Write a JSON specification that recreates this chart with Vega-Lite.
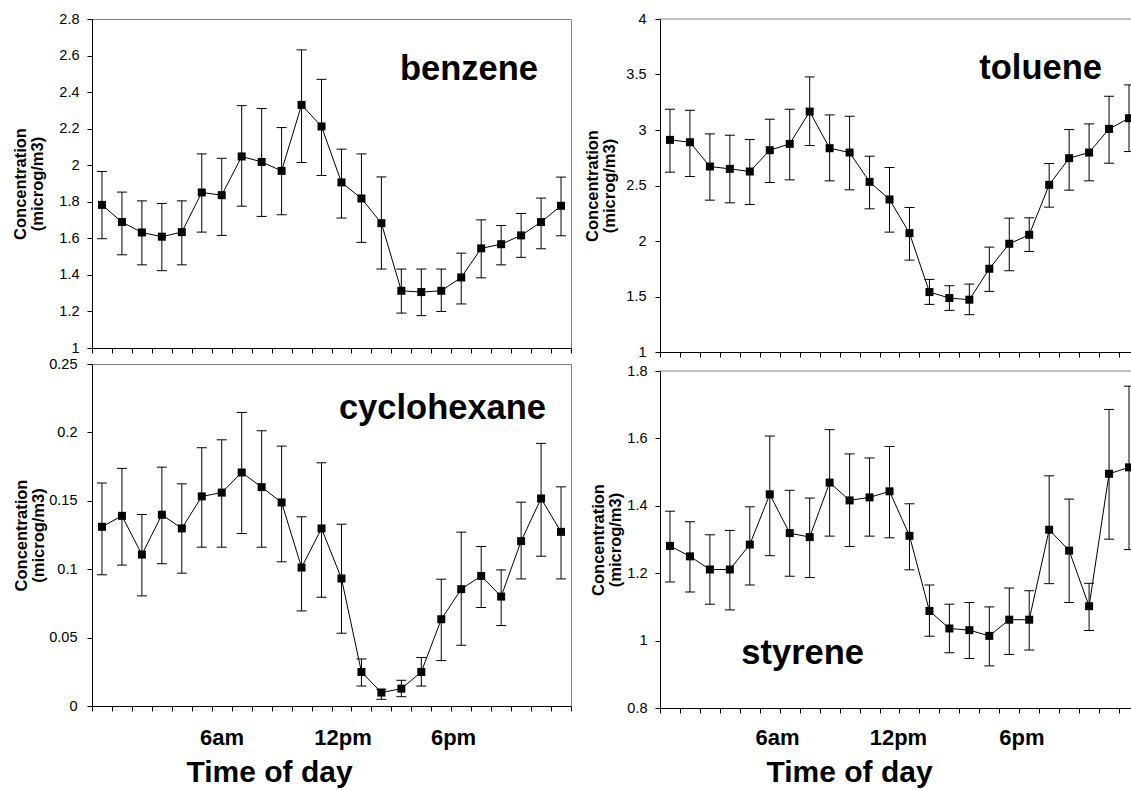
{
  "$schema": "https://vega.github.io/schema/vega-lite/v6.json",
  "background": "white",
  "padding": {"left": 12, "top": 10, "right": 0, "bottom": 0},
  "config": {
    "font": "Liberation Sans",
    "view": {"stroke": "#808080", "strokeWidth": 1},
    "axis": {"grid": false, "domainColor": "black", "domainWidth": 1, "tickColor": "black", "tickWidth": 1, "tickSize": 5, "labelColor": "black", "titleColor": "black", "labelFont": "Liberation Sans", "titleFont": "Liberation Sans"}
  },
  "datasets": {
    "benzene": [
      {"h": 0, "m": 1.783, "lo": 1.598, "hi": 1.966},
      {"h": 1, "m": 1.689, "lo": 1.510, "hi": 1.853},
      {"h": 2, "m": 1.632, "lo": 1.455, "hi": 1.805},
      {"h": 3, "m": 1.609, "lo": 1.423, "hi": 1.791},
      {"h": 4, "m": 1.634, "lo": 1.455, "hi": 1.805},
      {"h": 5, "m": 1.851, "lo": 1.634, "hi": 2.062},
      {"h": 6, "m": 1.836, "lo": 1.616, "hi": 2.038},
      {"h": 7, "m": 2.048, "lo": 1.776, "hi": 2.326},
      {"h": 8, "m": 2.018, "lo": 1.720, "hi": 2.310},
      {"h": 9, "m": 1.969, "lo": 1.729, "hi": 2.206},
      {"h": 10, "m": 2.330, "lo": 2.015, "hi": 2.631},
      {"h": 11, "m": 2.212, "lo": 1.944, "hi": 2.470},
      {"h": 12, "m": 1.906, "lo": 1.711, "hi": 2.088},
      {"h": 13, "m": 1.818, "lo": 1.578, "hi": 2.062},
      {"h": 14, "m": 1.683, "lo": 1.432, "hi": 1.936},
      {"h": 15, "m": 1.313, "lo": 1.191, "hi": 1.432},
      {"h": 16, "m": 1.306, "lo": 1.177, "hi": 1.432},
      {"h": 17, "m": 1.313, "lo": 1.200, "hi": 1.432},
      {"h": 18, "m": 1.386, "lo": 1.241, "hi": 1.519},
      {"h": 19, "m": 1.545, "lo": 1.384, "hi": 1.701},
      {"h": 20, "m": 1.568, "lo": 1.455, "hi": 1.670},
      {"h": 21, "m": 1.616, "lo": 1.496, "hi": 1.736},
      {"h": 22, "m": 1.689, "lo": 1.543, "hi": 1.820},
      {"h": 23, "m": 1.778, "lo": 1.614, "hi": 1.935}
    ],
    "toluene": [
      {"h": 0, "m": 2.911, "lo": 2.620, "hi": 3.187},
      {"h": 1, "m": 2.890, "lo": 2.581, "hi": 3.178},
      {"h": 2, "m": 2.671, "lo": 2.368, "hi": 2.965},
      {"h": 3, "m": 2.650, "lo": 2.344, "hi": 2.953},
      {"h": 4, "m": 2.626, "lo": 2.329, "hi": 2.914},
      {"h": 5, "m": 2.818, "lo": 2.527, "hi": 3.097},
      {"h": 6, "m": 2.875, "lo": 2.551, "hi": 3.187},
      {"h": 7, "m": 3.166, "lo": 2.860, "hi": 3.478},
      {"h": 8, "m": 2.836, "lo": 2.542, "hi": 3.136},
      {"h": 9, "m": 2.797, "lo": 2.461, "hi": 3.124},
      {"h": 10, "m": 2.533, "lo": 2.290, "hi": 2.764},
      {"h": 11, "m": 2.374, "lo": 2.080, "hi": 2.662},
      {"h": 12, "m": 2.071, "lo": 1.828, "hi": 2.302},
      {"h": 13, "m": 1.540, "lo": 1.429, "hi": 1.654},
      {"h": 14, "m": 1.486, "lo": 1.375, "hi": 1.597},
      {"h": 15, "m": 1.471, "lo": 1.336, "hi": 1.612},
      {"h": 16, "m": 1.750, "lo": 1.546, "hi": 1.945},
      {"h": 17, "m": 1.975, "lo": 1.732, "hi": 2.206},
      {"h": 18, "m": 2.056, "lo": 1.906, "hi": 2.209},
      {"h": 19, "m": 2.506, "lo": 2.305, "hi": 2.698},
      {"h": 20, "m": 2.746, "lo": 2.458, "hi": 3.004},
      {"h": 21, "m": 2.797, "lo": 2.542, "hi": 3.055},
      {"h": 22, "m": 3.010, "lo": 2.701, "hi": 3.304},
      {"h": 23, "m": 3.106, "lo": 2.806, "hi": 3.406}
    ],
    "cyclohexane": [
      {"h": 0, "m": 0.131, "lo": 0.0959, "hi": 0.163},
      {"h": 1, "m": 0.139, "lo": 0.103, "hi": 0.1737},
      {"h": 2, "m": 0.1107, "lo": 0.0805, "hi": 0.140},
      {"h": 3, "m": 0.1398, "lo": 0.104, "hi": 0.1746},
      {"h": 4, "m": 0.1298, "lo": 0.0971, "hi": 0.1624},
      {"h": 5, "m": 0.1532, "lo": 0.1161, "hi": 0.1888},
      {"h": 6, "m": 0.156, "lo": 0.1161, "hi": 0.1946},
      {"h": 7, "m": 0.1707, "lo": 0.1261, "hi": 0.2146},
      {"h": 8, "m": 0.160, "lo": 0.1161, "hi": 0.2012},
      {"h": 9, "m": 0.1488, "lo": 0.1054, "hi": 0.190},
      {"h": 10, "m": 0.1012, "lo": 0.0695, "hi": 0.1383},
      {"h": 11, "m": 0.1298, "lo": 0.0795, "hi": 0.1778},
      {"h": 12, "m": 0.0932, "lo": 0.0532, "hi": 0.1329},
      {"h": 13, "m": 0.0249, "lo": 0.0146, "hi": 0.0344},
      {"h": 14, "m": 0.0098, "lo": 0.0049, "hi": 0.0122},
      {"h": 15, "m": 0.0127, "lo": 0.0068, "hi": 0.0188},
      {"h": 16, "m": 0.0249, "lo": 0.0146, "hi": 0.0354},
      {"h": 17, "m": 0.0634, "lo": 0.0332, "hi": 0.0927},
      {"h": 18, "m": 0.0854, "lo": 0.0444, "hi": 0.1271},
      {"h": 19, "m": 0.0951, "lo": 0.072, "hi": 0.1166},
      {"h": 20, "m": 0.080, "lo": 0.0588, "hi": 0.0995},
      {"h": 21, "m": 0.1205, "lo": 0.0929, "hi": 0.149},
      {"h": 22, "m": 0.1517, "lo": 0.1095, "hi": 0.192},
      {"h": 23, "m": 0.1273, "lo": 0.0929, "hi": 0.1602}
    ],
    "styrene": [
      {"h": 0, "m": 1.281, "lo": 1.174, "hi": 1.384},
      {"h": 1, "m": 1.250, "lo": 1.144, "hi": 1.353},
      {"h": 2, "m": 1.211, "lo": 1.108, "hi": 1.314},
      {"h": 3, "m": 1.211, "lo": 1.091, "hi": 1.327},
      {"h": 4, "m": 1.285, "lo": 1.165, "hi": 1.397},
      {"h": 5, "m": 1.434, "lo": 1.252, "hi": 1.607},
      {"h": 6, "m": 1.319, "lo": 1.191, "hi": 1.446},
      {"h": 7, "m": 1.307, "lo": 1.187, "hi": 1.423},
      {"h": 8, "m": 1.469, "lo": 1.310, "hi": 1.626},
      {"h": 9, "m": 1.416, "lo": 1.279, "hi": 1.554},
      {"h": 10, "m": 1.425, "lo": 1.310, "hi": 1.542},
      {"h": 11, "m": 1.443, "lo": 1.305, "hi": 1.576},
      {"h": 12, "m": 1.311, "lo": 1.210, "hi": 1.406},
      {"h": 13, "m": 1.088, "lo": 1.013, "hi": 1.165},
      {"h": 14, "m": 1.036, "lo": 0.964, "hi": 1.108},
      {"h": 15, "m": 1.031, "lo": 0.947, "hi": 1.113},
      {"h": 16, "m": 1.014, "lo": 0.925, "hi": 1.100},
      {"h": 17, "m": 1.062, "lo": 0.959, "hi": 1.156},
      {"h": 18, "m": 1.062, "lo": 0.972, "hi": 1.148},
      {"h": 19, "m": 1.329, "lo": 1.169, "hi": 1.489},
      {"h": 20, "m": 1.267, "lo": 1.113, "hi": 1.420},
      {"h": 21, "m": 1.102, "lo": 1.030, "hi": 1.170},
      {"h": 22, "m": 1.495, "lo": 1.301, "hi": 1.686},
      {"h": 23, "m": 1.514, "lo": 1.270, "hi": 1.755}
    ]
  },
  "spacing": 12,
  "hconcat": [
    {
      "spacing": 0,
      "vconcat": [
        {
          "width": 479, "height": 329,
          "data": {"name": "benzene"},
          "encoding": {
            "x": {"field": "h", "type": "quantitative", "scale": {"domain": [-0.5, 23.5], "nice": false, "zero": false},
                  "axis": {"values": [-0.5,0.5,1.5,2.5,3.5,4.5,5.5,6.5,7.5,8.5,9.5,10.5,11.5,12.5,13.5,14.5,15.5,16.5,17.5,18.5,19.5,20.5,21.5,22.5,23.5], "labels": false, "title": null}},
            "y": {"field": "m", "type": "quantitative", "scale": {"domain": [1, 2.8], "nice": false, "zero": false},
                  "axis": {"values": [1,1.2,1.4,1.6,1.8,2,2.2,2.4,2.6,2.8], "format": "~g", "labelFontSize": 14.5, "labelPadding": 8,
                           "title": ["Concentration", "(microg/m3)"], "titleFontSize": 16.5, "titleFontWeight": "bold", "titleLineHeight": 17, "titlePadding": 13}}
          },
          "layer": [
            {"mark": {"type": "rule", "color": "black", "strokeWidth": 1}, "encoding": {"y": {"field": "lo", "type": "quantitative"}, "y2": {"field": "hi"}}},
            {"mark": {"type": "tick", "orient": "horizontal", "size": 10, "thickness": 1, "color": "black", "opacity": 1}, "encoding": {"y": {"field": "hi", "type": "quantitative"}}},
            {"mark": {"type": "tick", "orient": "horizontal", "size": 10, "thickness": 1, "color": "black", "opacity": 1}, "encoding": {"y": {"field": "lo", "type": "quantitative"}}},
            {"mark": {"type": "line", "color": "black", "strokeWidth": 1}},
            {"mark": {"type": "square", "size": 64, "color": "black", "filled": true, "opacity": 1}},
            {"transform": [{"filter": "datum.h == 0"}],
             "mark": {"type": "text", "text": "benzene", "font": "Liberation Sans", "fontSize": 34.5, "fontWeight": "bold", "align": "center", "baseline": "alphabetic", "color": "black"},
             "encoding": {"x": {"datum": 18.39, "type": "quantitative"}, "y": {"datum": 2.467, "type": "quantitative"}}}
          ]
        },
        {
          "width": 479, "height": 342,
          "data": {"name": "cyclohexane"},
          "encoding": {
            "x": {"field": "h", "type": "quantitative", "scale": {"domain": [-0.5, 23.5], "nice": false, "zero": false},
                  "axis": {"values": [-0.5,0.5,1.5,2.5,3.5,4.5,5.5,6.5,7.5,8.5,9.5,10.5,11.5,12.5,13.5,14.5,15.5,16.5,17.5,18.5,19.5,20.5,21.5,22.5,23.5,5.99,12.05,17.59],
                           "labelExpr": "abs(datum.value - floor(datum.value) - 0.5) > 0.01 ? (datum.value < 9 ? '6am' : (datum.value < 15 ? '12pm' : '6pm')) : ''",
                           "tickOpacity": {"condition": {"test": "abs(datum.value - floor(datum.value) - 0.5) > 0.01", "value": 0}, "value": 1},
                           "labelFontSize": 22, "labelFontWeight": "bold", "labelPadding": 16, "labelOverlap": false, "labelFlush": false, "labelBound": false,
                           "title": "Time of day", "titleFontSize": 30, "titleFontWeight": "bold", "titlePadding": 9, "titleAnchor": "middle", "titleX": 177}},
            "y": {"field": "m", "type": "quantitative", "scale": {"domain": [0, 0.25], "nice": false, "zero": false},
                  "axis": {"values": [0,0.05,0.1,0.15,0.2,0.25], "format": "~g", "labelFontSize": 14.5, "labelPadding": 10,
                           "title": ["Concentration", "(microg/m3)"], "titleFontSize": 16.5, "titleFontWeight": "bold", "titleLineHeight": 17, "titlePadding": 2}}
          },
          "layer": [
            {"mark": {"type": "rule", "color": "black", "strokeWidth": 1}, "encoding": {"y": {"field": "lo", "type": "quantitative"}, "y2": {"field": "hi"}}},
            {"mark": {"type": "tick", "orient": "horizontal", "size": 10, "thickness": 1, "color": "black", "opacity": 1}, "encoding": {"y": {"field": "hi", "type": "quantitative"}}},
            {"mark": {"type": "tick", "orient": "horizontal", "size": 10, "thickness": 1, "color": "black", "opacity": 1}, "encoding": {"y": {"field": "lo", "type": "quantitative"}}},
            {"mark": {"type": "line", "color": "black", "strokeWidth": 1}},
            {"mark": {"type": "square", "size": 64, "color": "black", "filled": true, "opacity": 1}},
            {"transform": [{"filter": "datum.h == 0"}],
             "mark": {"type": "text", "text": "cyclohexane", "font": "Liberation Sans", "fontSize": 34.5, "fontWeight": "bold", "align": "center", "baseline": "alphabetic", "color": "black"},
             "encoding": {"x": {"datum": 17.06, "type": "quantitative"}, "y": {"datum": 0.2098, "type": "quantitative"}}}
          ]
        }
      ]
    },
    {
      "spacing": 4,
      "vconcat": [
        {
          "width": 472, "height": 333,
          "view": {"stroke": null},
          "data": {"name": "toluene"},
          "encoding": {
            "x": {"field": "h", "type": "quantitative", "scale": {"domain": [-0.5, 23.15], "nice": false, "zero": false},
                  "axis": {"values": [-0.5,0.5,1.5,2.5,3.5,4.5,5.5,6.5,7.5,8.5,9.5,10.5,11.5,12.5,13.5,14.5,15.5,16.5,17.5,18.5,19.5,20.5,21.5,22.5], "labels": false, "title": null}},
            "y": {"field": "m", "type": "quantitative", "scale": {"domain": [1, 4], "nice": false, "zero": false},
                  "axis": {"values": [1,1.5,2,2.5,3,3.5,4], "format": "~g", "labelFontSize": 14.5, "labelPadding": 9,
                           "title": ["Concentration", "(microg/m3)"], "titleFontSize": 16.5, "titleFontWeight": "bold", "titleLineHeight": 17, "titlePadding": 8}}
          },
          "layer": [
            {"transform": [{"filter": "datum.h == 0"}],
             "mark": {"type": "rule", "color": "#808080", "strokeWidth": 1}, "encoding": {"x": null, "y": {"datum": 4, "type": "quantitative"}}},
            {"mark": {"type": "rule", "color": "black", "strokeWidth": 1, "clip": true}, "encoding": {"y": {"field": "lo", "type": "quantitative"}, "y2": {"field": "hi"}}},
            {"mark": {"type": "tick", "orient": "horizontal", "size": 10, "thickness": 1, "color": "black", "opacity": 1, "clip": true}, "encoding": {"y": {"field": "hi", "type": "quantitative"}}},
            {"mark": {"type": "tick", "orient": "horizontal", "size": 10, "thickness": 1, "color": "black", "opacity": 1, "clip": true}, "encoding": {"y": {"field": "lo", "type": "quantitative"}}},
            {"mark": {"type": "line", "color": "black", "strokeWidth": 1, "clip": true}},
            {"mark": {"type": "square", "size": 64, "color": "black", "filled": true, "opacity": 1, "clip": true}},
            {"transform": [{"filter": "datum.h == 0"}],
             "mark": {"type": "text", "text": "toluene", "font": "Liberation Sans", "fontSize": 34.5, "fontWeight": "bold", "align": "center", "baseline": "alphabetic", "color": "black"},
             "encoding": {"x": {"datum": 18.57, "type": "quantitative"}, "y": {"datum": 3.46, "type": "quantitative"}}}
          ]
        },
        {
          "width": 472, "height": 337,
          "view": {"stroke": null},
          "data": {"name": "styrene"},
          "encoding": {
            "x": {"field": "h", "type": "quantitative", "scale": {"domain": [-0.5, 23.15], "nice": false, "zero": false},
                  "axis": {"values": [-0.5,0.5,1.5,2.5,3.5,4.5,5.5,6.5,7.5,8.5,9.5,10.5,11.5,12.5,13.5,14.5,15.5,16.5,17.5,18.5,19.5,20.5,21.5,22.5,5.36,11.42,17.61],
                           "labelExpr": "abs(datum.value - floor(datum.value) - 0.5) > 0.01 ? (datum.value < 9 ? '6am' : (datum.value < 15 ? '12pm' : '6pm')) : ''",
                           "tickOpacity": {"condition": {"test": "abs(datum.value - floor(datum.value) - 0.5) > 0.01", "value": 0}, "value": 1},
                           "labelFontSize": 22, "labelFontWeight": "bold", "labelPadding": 14, "labelOverlap": false, "labelFlush": false, "labelBound": false,
                           "title": "Time of day", "titleFontSize": 30, "titleFontWeight": "bold", "titlePadding": 9, "titleAnchor": "middle", "titleX": 189}},
            "y": {"field": "m", "type": "quantitative", "scale": {"domain": [0.8, 1.8], "nice": false, "zero": false},
                  "axis": {"values": [0.8,1,1.2,1.4,1.6,1.8], "format": "~g", "labelFontSize": 14.5, "labelPadding": 8,
                           "title": ["Concentration", "(microg/m3)"], "titleFontSize": 16.5, "titleFontWeight": "bold", "titleLineHeight": 17, "titlePadding": 3}}
          },
          "layer": [
            {"transform": [{"filter": "datum.h == 0"}],
             "mark": {"type": "rule", "color": "#808080", "strokeWidth": 1}, "encoding": {"x": null, "y": {"datum": 1.8, "type": "quantitative"}}},
            {"mark": {"type": "rule", "color": "black", "strokeWidth": 1, "clip": true}, "encoding": {"y": {"field": "lo", "type": "quantitative"}, "y2": {"field": "hi"}}},
            {"mark": {"type": "tick", "orient": "horizontal", "size": 10, "thickness": 1, "color": "black", "opacity": 1, "clip": true}, "encoding": {"y": {"field": "hi", "type": "quantitative"}}},
            {"mark": {"type": "tick", "orient": "horizontal", "size": 10, "thickness": 1, "color": "black", "opacity": 1, "clip": true}, "encoding": {"y": {"field": "lo", "type": "quantitative"}}},
            {"mark": {"type": "line", "color": "black", "strokeWidth": 1, "clip": true}},
            {"mark": {"type": "square", "size": 64, "color": "black", "filled": true, "opacity": 1, "clip": true}},
            {"transform": [{"filter": "datum.h == 0"}],
             "mark": {"type": "text", "text": "styrene", "font": "Liberation Sans", "fontSize": 34.5, "fontWeight": "bold", "align": "center", "baseline": "alphabetic", "color": "black"},
             "encoding": {"x": {"datum": 6.65, "type": "quantitative"}, "y": {"datum": 0.932, "type": "quantitative"}}}
          ]
        }
      ]
    }
  ]
}
